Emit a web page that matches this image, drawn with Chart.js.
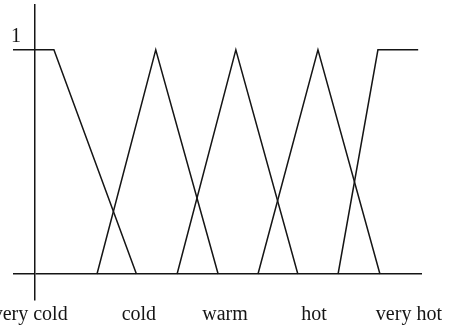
<!DOCTYPE html>
<html>
<head>
<meta charset="utf-8">
<script src="https://cdn.jsdelivr.net/npm/chart.js@4"></script>
<style>
  html, body { margin: 0; padding: 0; background: #fff; }
  #chart { display: block; }
</style>
</head>
<body>
<canvas id="chart" width="451" height="326"></canvas>
<script>
// ===================== DATA =====================
// membership functions, x = temperature (arbitrary units), y = membership
const veryColdX = [0, 0.47, 2.52];
const veryColdY = [1, 1, 0];
const coldX = [1.54, 3.0, 4.55];
const coldY = [0, 1, 0];
const warmX = [3.53, 4.99, 6.53];
const warmY = [0, 1, 0];
const hotX = [5.54, 7.03, 8.57];
const hotY = [0, 1, 0];
const veryHotX = [7.53, 8.52, 9.52];
const veryHotY = [0, 1, 1];

// category labels under the axis
const labelNames = ["very cold", "cold", "warm", "hot", "very hot"];
const labelPos = [-0.12, 2.58, 4.72, 6.93, 9.29];

// y tick
const yTicks = [0, 1];
const yTickLabels = ["", "1"];

// axis ranges
const X_MIN = 0, X_MAX = 9.615;
const Y_MIN = -0.116, Y_MAX = 1.2;

const INK = "#151515";

// ===================== HELPERS =====================
function toPoints(xs, ys) {
  return xs.map((x, i) => ({ x: x, y: ys[i] }));
}

function lineSet(xs, ys) {
  return {
    data: toPoints(xs, ys),
    showLine: true,
    borderColor: INK,
    borderWidth: 1.5,
    pointRadius: 0,
    tension: 0,
    fill: false
  };
}

// ===================== CHART =====================
const ctx = document.getElementById("chart").getContext("2d");

new Chart(ctx, {
  type: "scatter",
  data: {
    datasets: [
      lineSet(veryColdX, veryColdY),
      lineSet(coldX, coldY),
      lineSet(warmX, warmY),
      lineSet(hotX, hotY),
      lineSet(veryHotX, veryHotY)
    ]
  },
  options: {
    responsive: false,
    animation: false,
    layout: {
      autoPadding: false,
      padding: { top: 5, left: 0, right: 29, bottom: 0 }
    },
    plugins: {
      legend: { display: false },
      tooltip: { enabled: false }
    },
    scales: {
      x: {
        type: "linear",
        position: "bottom",
        min: X_MIN,
        max: X_MAX,
        grid: { display: false },
        border: { display: false },
        afterBuildTicks: scale => {
          scale.ticks = labelPos.map(v => ({ value: v }));
        },
        afterFit: scale => {
          scale.height = 26;
          scale.paddingLeft = 0;
          scale.paddingRight = 0;
        },
        ticks: {
          autoSkip: false,
          maxRotation: 0,
          padding: -5,
          color: INK,
          font: { family: "'Liberation Serif', 'Times New Roman', serif", size: 20 },
          callback: (value, i) => labelNames[i]
        }
      },
      y: {
        type: "linear",
        position: "left",
        min: Y_MIN,
        max: Y_MAX,
        border: { display: true, color: INK, width: 1.5 },
        grid: {
          drawOnChartArea: true,
          drawTicks: true,
          tickLength: 22,
          lineWidth: 1.5,
          tickColor: INK,
          color: c => (c.tick && c.tick.value === 0 ? INK : "rgba(0,0,0,0)")
        },
        afterBuildTicks: scale => {
          scale.ticks = yTicks.map(v => ({ value: v }));
        },
        afterFit: scale => {
          scale.width = 35;
          scale.paddingTop = 0;
          scale.paddingBottom = 0;
        },
        ticks: {
          padding: -8,
          labelOffset: -13,
          color: INK,
          font: { family: "'Liberation Serif', 'Times New Roman', serif", size: 20 },
          callback: (value, i) => yTickLabels[i]
        }
      }
    }
  }
});
</script>
</body>
</html>
